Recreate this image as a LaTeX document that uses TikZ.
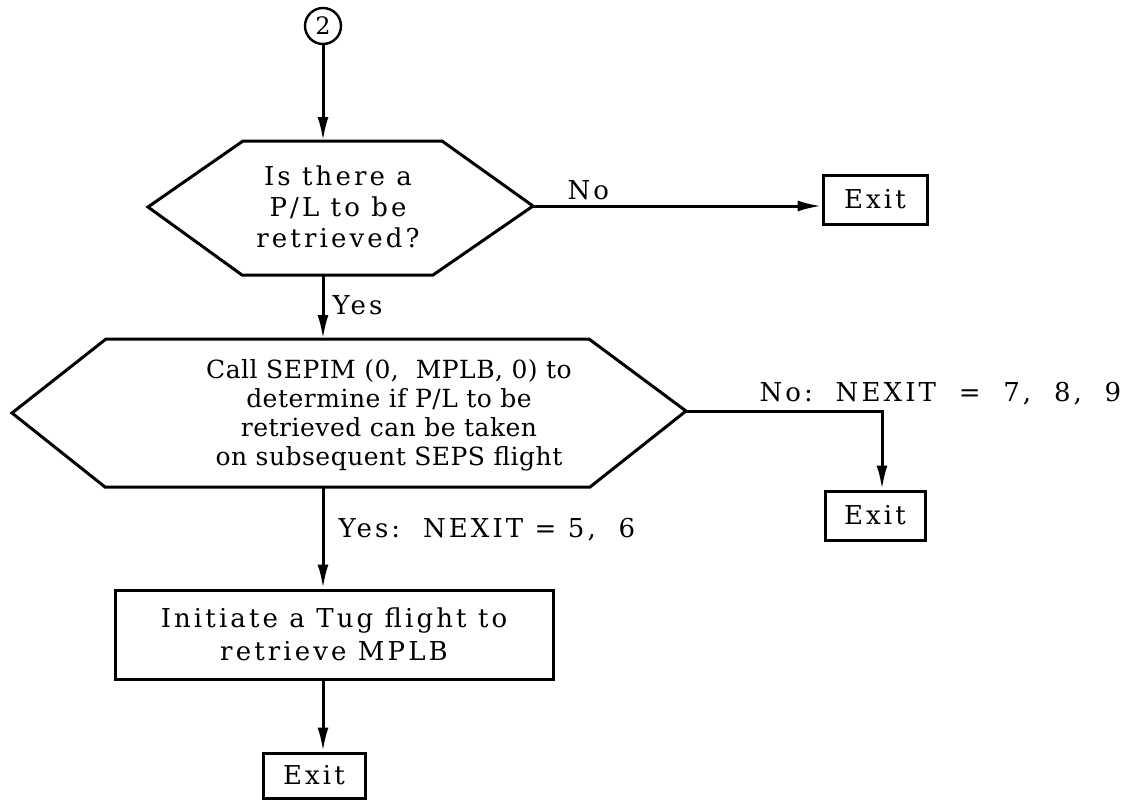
\documentclass[tikz,border=0pt]{standalone}
\usepackage{fontspec}
\setmainfont{DejaVu Serif}
\newfontfamily\wideface[LetterSpace=12]{DejaVu Serif}
\newfontfamily\tightface[LetterSpace=2]{DejaVu Serif}
\usetikzlibrary{arrows.meta}
\begin{document}
\begin{tikzpicture}[x=1pt,y=-1pt,line width=3pt,
  >={Latex[length=24pt,width=11pt]},
  wtext/.style={font=\wideface\fontsize{26}{31}\selectfont,inner sep=0pt},
  htext/.style={font=\tightface\fontsize{25}{29}\selectfont,inner sep=0pt,align=center},
  exitbox/.style={draw,inner sep=0pt,font=\wideface\fontsize{26}{31}\selectfont},
  connector/.style={circle,draw,line width=2.4pt,minimum size=36pt,inner sep=0pt,font=\fontsize{24}{24}\selectfont}]
\useasboundingbox (0,0) rectangle (1139,801);

% connector circle
\node[connector] (c2) at (323,26) {2};

% decision 1
\coordinate (h1tl) at (243,141);
\coordinate (h1tr) at (442,141);
\coordinate (h1r)  at (533,206);
\coordinate (h1br) at (433,275);
\coordinate (h1bl) at (242,275);
\coordinate (h1l)  at (148,207);
\coordinate (h1t)  at (323,141);
\coordinate (h1b)  at (323,275);
\draw (h1tl) -- (h1tr) -- (h1r) -- (h1br) -- (h1bl) -- (h1l) -- cycle;
\node[wtext,align=center] (q1) at (338,207) {Is there a\\P/L to be\\retrieved?};

% exit 1
\node[exitbox,minimum width=104pt,minimum height=49pt] (e1) at (875,199.5) {Exit};

% decision 2
\coordinate (h2tl) at (106,339);
\coordinate (h2tr) at (589,339);
\coordinate (h2r)  at (686,411);
\coordinate (h2br) at (590,487);
\coordinate (h2bl) at (105,487);
\coordinate (h2l)  at (12,413);
\coordinate (h2t)  at (323,339);
\coordinate (h2b)  at (323,487);
\draw (h2tl) -- (h2tr) -- (h2r) -- (h2br) -- (h2bl) -- (h2l) -- cycle;
\node[htext] (q2) at (389,415) {Call SEPIM (0, \ MPLB, 0) to\\determine if P/L to be\\retrieved can be taken\\on subsequent SEPS flight};

% exit 2
\node[exitbox,minimum width=100pt,minimum height=49pt] (e2) at (875,515.5) {Exit};

% process box
\node[draw,inner sep=0pt,minimum width=438pt,minimum height=89pt] (b1) at (334,634.5) {};
\node[wtext,align=center,font=\wideface\fontsize{26}{33}\selectfont] (b1t) at (b1) {Initiate a Tug flight to\\retrieve MPLB};

% exit 3
\node[exitbox,minimum width=102pt,minimum height=45pt] (e3) at (314,775.5) {Exit};

% connectors
\draw[->] (c2) -- (h1t);
\draw[->] (h1r) -- (h1r -| e1.west);
\node[wtext,anchor=base west] (lno1) at (566,199) {No};
\draw[->] (h1b) -- (h2t);
\node[wtext,anchor=base west] (lyes1) at (331,314) {Yes};
\draw[->] (h2r) -| ([xshift=7pt]e2.north);
\node[wtext,anchor=base west] (lno2) at (758,401) {No:\ \ NEXIT \ = \ 7, \ 8, \ 9};
\draw[->] (h2b) -- (b1.north -| h2b);
\node[wtext,anchor=base west] (lyes2) at (337,537) {Yes:\ \ NEXIT = 5, \ 6};
\draw[->] (b1.south -| h2b) -- (e3.north -| h2b);
\end{tikzpicture}
\end{document}
